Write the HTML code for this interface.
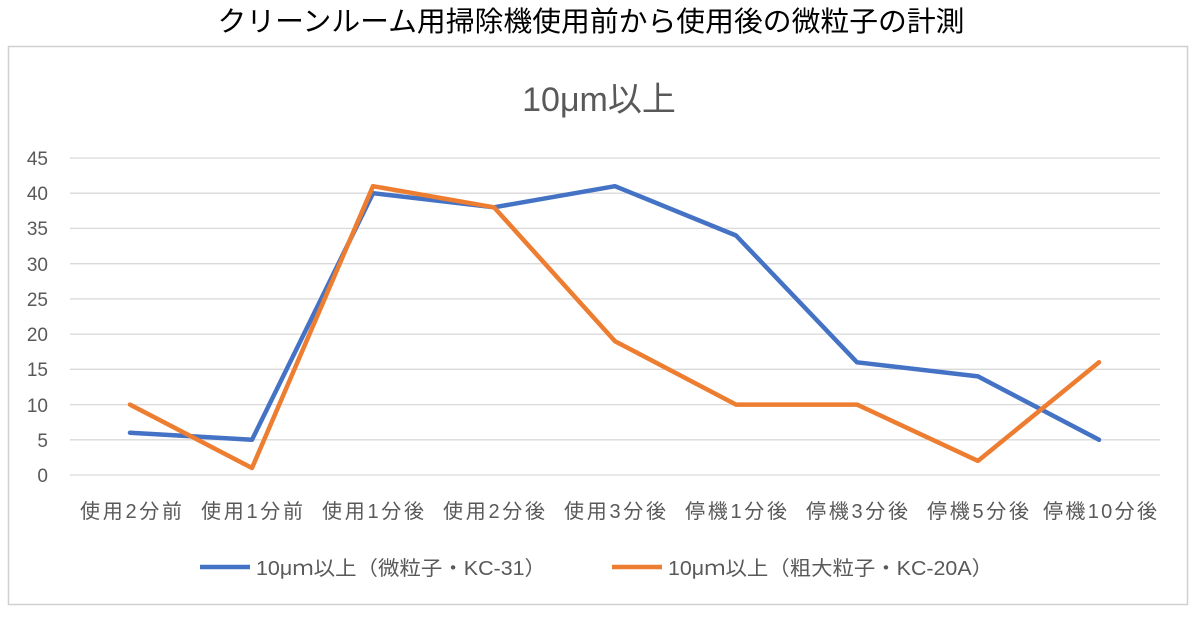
<!DOCTYPE html>
<html><head><meta charset="utf-8"><style>
body{margin:0;background:#fff;width:1200px;height:615px;overflow:hidden}
svg text{font-family:"Liberation Sans","Noto Sans CJK JP",sans-serif}
</style></head><body>
<svg width="1200" height="615" viewBox="0 0 1200 615">
<text x="591" y="31" text-anchor="middle" font-size="28" fill="#000" textLength="747" lengthAdjust="spacingAndGlyphs">クリーンルーム用掃除機使用前から使用後の微粒子の計測</text>
<rect x="8.5" y="46.5" width="1179" height="558" fill="#fff" stroke="#d0d0d0" stroke-width="1.5"/>
<text x="599" y="111" text-anchor="middle" font-size="34" fill="#595959">10μm以上</text>
<g stroke="#d9d9d9" stroke-width="1.3">
<line x1="70" x2="1160" y1="158" y2="158"/><line x1="70" x2="1160" y1="193.2" y2="193.2"/>
<line x1="70" x2="1160" y1="228.4" y2="228.4"/><line x1="70" x2="1160" y1="263.7" y2="263.7"/>
<line x1="70" x2="1160" y1="298.9" y2="298.9"/><line x1="70" x2="1160" y1="334.1" y2="334.1"/>
<line x1="70" x2="1160" y1="369.3" y2="369.3"/><line x1="70" x2="1160" y1="404.6" y2="404.6"/>
<line x1="70" x2="1160" y1="439.8" y2="439.8"/><line x1="70" x2="1160" y1="475" y2="475"/>
</g>
<g font-size="19" fill="#595959" text-anchor="end">
<text x="48" y="165">45</text><text x="48" y="200">40</text><text x="48" y="235">35</text>
<text x="48" y="271">30</text><text x="48" y="306">25</text><text x="48" y="341">20</text>
<text x="48" y="376">15</text><text x="48" y="412">10</text><text x="48" y="447">5</text><text x="48" y="482">0</text>
</g>
<g font-size="20" fill="#595959" text-anchor="middle" lengthAdjust="spacingAndGlyphs">
<text x="131" y="518" textLength="102">使用2分前</text><text x="252" y="518" textLength="102">使用1分前</text><text x="373" y="518" textLength="102">使用1分後</text>
<text x="494" y="518" textLength="102">使用2分後</text><text x="615" y="518" textLength="102">使用3分後</text><text x="736" y="518" textLength="102">停機1分後</text>
<text x="857" y="518" textLength="102">停機3分後</text><text x="978" y="518" textLength="102">停機5分後</text><text x="1100" y="518" textLength="114">停機10分後</text>
</g>
<polyline fill="none" stroke="#4472c4" stroke-width="4.5" stroke-linejoin="round" stroke-linecap="round"
points="130,432.7 252,439.8 373,193.2 494,207.3 615,186.2 736,235.5 857,362.3 978,376.4 1099,439.8"/>
<polyline fill="none" stroke="#ed7d31" stroke-width="4.5" stroke-linejoin="round" stroke-linecap="round"
points="130,404.6 252,468 373,186.2 494,207.3 615,341.2 736,404.6 857,404.6 978,460.9 1099,362.3"/>
<line x1="200" x2="250" y1="567" y2="567" stroke="#4472c4" stroke-width="4.5"/>
<text x="256" y="575" font-size="20" fill="#595959" textLength="290" lengthAdjust="spacingAndGlyphs">10μｍ以上（微粒子・KC-31）</text>
<line x1="612" x2="662" y1="567" y2="567" stroke="#ed7d31" stroke-width="4.5"/>
<text x="668" y="575" font-size="20" fill="#595959" textLength="325" lengthAdjust="spacingAndGlyphs">10μｍ以上（粗大粒子・KC-20A）</text>
</svg>
</body></html>
